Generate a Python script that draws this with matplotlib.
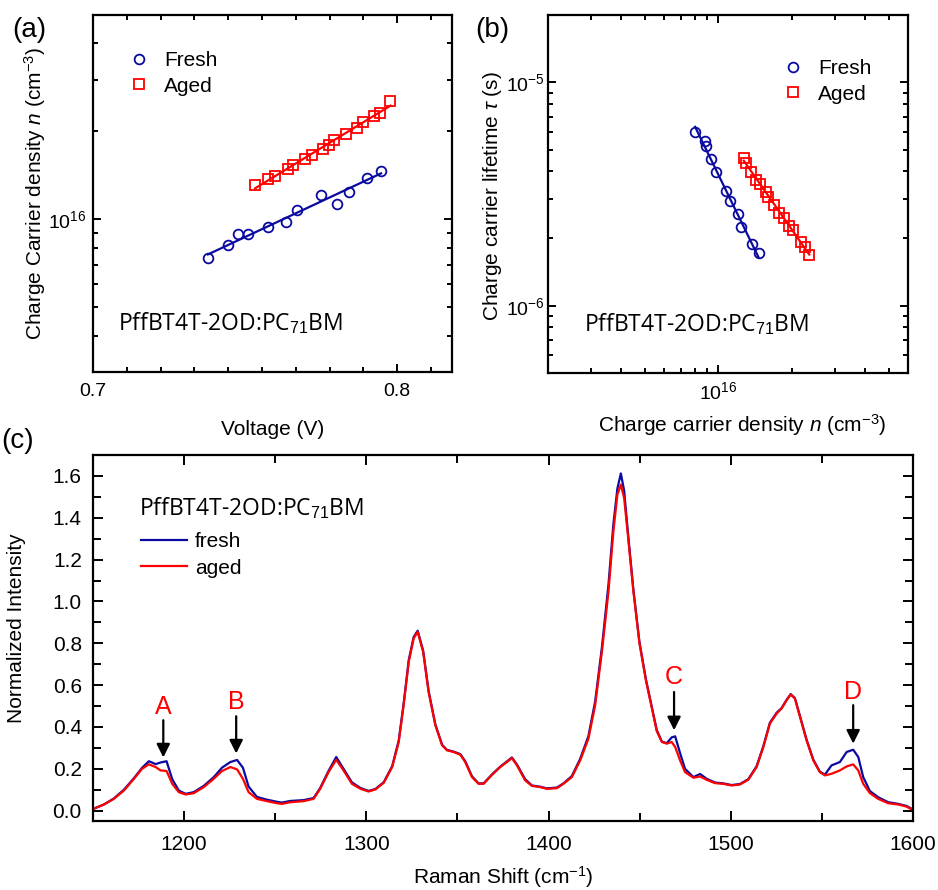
import numpy as np
import matplotlib
matplotlib.use("Agg")
import matplotlib.pyplot as plt
from matplotlib.ticker import (LogLocator, NullFormatter, MultipleLocator,
                               FixedLocator)

plt.rcParams['font.family'] = ['Liberation Sans', 'DejaVu Sans']
plt.rcParams['mathtext.fontset'] = 'custom'
plt.rcParams['mathtext.rm'] = 'Liberation Sans'
plt.rcParams['mathtext.it'] = 'Liberation Sans:italic'
plt.rcParams['axes.linewidth'] = 1.6

BLUE = '#0a0aa0'
RED = '#ff0000'

# (a) carrier density vs voltage
v_fresh = [0.7378, 0.7444, 0.7478, 0.7511, 0.7574, 0.7636, 0.7670, 0.7749,
           0.7801, 0.7841, 0.7900, 0.7947]
n_fresh_v = [7.34e15, 8.15e15, 8.89e15, 8.89e15, 9.41e15, 9.82e15, 1.076e16,
             1.207e16, 1.131e16, 1.243e16, 1.384e16, 1.468e16]
v_aged = [0.7533, 0.7576, 0.7598, 0.7640, 0.7658, 0.7698, 0.7719, 0.7757,
          0.7775, 0.7793, 0.7832, 0.7868, 0.7888, 0.7923, 0.7942, 0.7978]
n_aged_v = [1.306e16, 1.377e16, 1.405e16, 1.489e16, 1.532e16, 1.611e16,
            1.658e16, 1.734e16, 1.789e16, 1.865e16, 1.961e16, 2.056e16,
            2.155e16, 2.265e16, 2.313e16, 2.547e16]

# (b) lifetime vs carrier density
n_fresh = [8.03e15, 8.84e15, 8.90e15, 9.33e15, 9.78e15, 1.076e16, 1.121e16,
           1.202e16, 1.233e16, 1.373e16, 1.463e16]
tau_fresh = [6.01e-6, 5.48e-6, 5.19e-6, 4.54e-6, 3.96e-6, 3.27e-6, 2.95e-6,
             2.57e-6, 2.24e-6, 1.89e-6, 1.73e-6]
n_aged = [1.272e16, 1.302e16, 1.365e16, 1.432e16, 1.487e16, 1.564e16,
          1.598e16, 1.692e16, 1.775e16, 1.862e16, 1.952e16, 2.028e16,
          2.176e16, 2.267e16, 2.361e16]
tau_aged = [4.57e-6, 4.34e-6, 3.98e-6, 3.65e-6, 3.51e-6, 3.22e-6, 3.06e-6,
            2.82e-6, 2.59e-6, 2.48e-6, 2.28e-6, 2.18e-6, 1.92e-6, 1.84e-6,
            1.69e-6]

# (c) Raman spectra
shift = [1150.2, 1156.0, 1161.5, 1167.0, 1172.5, 1177.0, 1180.7, 1184.4,
         1187.1, 1190.4, 1193.5, 1197.1, 1200.8, 1205.3, 1210.8, 1216.3,
         1220.8, 1225.4, 1229.1, 1232.3, 1235.4, 1240.0, 1245.5, 1251.0,
         1253.7, 1258.3, 1265.6, 1271.1, 1274.7, 1279.3, 1283.5, 1287.5,
         1292.1, 1296.8, 1301.3, 1305.0, 1309.6, 1314.2, 1317.8, 1320.5,
         1323.3, 1326.0, 1328.2, 1331.2, 1334.2, 1337.9, 1341.6, 1344.3,
         1347.9, 1351.6, 1354.3, 1358.0, 1361.6, 1364.4, 1369.0, 1373.5,
         1377.2, 1379.9, 1382.7, 1387.2, 1390.9, 1395.5, 1399.1, 1404.6,
         1408.2, 1412.8, 1417.4, 1421.9, 1425.6, 1429.3, 1432.9, 1435.6,
         1437.8, 1439.7, 1441.5, 1443.9, 1446.6, 1449.9, 1451.5, 1453.5,
         1456.7, 1459.4, 1462.2, 1464.9, 1467.6, 1469.5, 1472.2, 1474.9,
         1479.5, 1483.2, 1486.8, 1491.4, 1495.9, 1500.5, 1505.1, 1509.6,
         1514.2, 1517.9, 1521.5, 1525.2, 1527.9, 1530.7, 1532.9, 1535.2,
         1538.0, 1541.6, 1545.3, 1548.9, 1551.7, 1555.3, 1559.9, 1563.6,
         1567.2, 1570.0, 1572.7, 1576.4, 1580.9, 1586.4, 1591.9, 1596.5,
         1599.8]
aged = [0.008, 0.029, 0.056, 0.096, 0.152, 0.200, 0.221, 0.208,
        0.192, 0.189, 0.128, 0.088, 0.077, 0.083, 0.112, 0.152,
        0.189, 0.208, 0.197, 0.152, 0.088, 0.056, 0.045, 0.035,
        0.032, 0.040, 0.045, 0.056, 0.104, 0.184, 0.243, 0.192,
        0.128, 0.104, 0.091, 0.101, 0.133, 0.208, 0.328, 0.504,
        0.711, 0.823, 0.855, 0.759, 0.567, 0.408, 0.312, 0.288,
        0.280, 0.267, 0.232, 0.160, 0.128, 0.128, 0.171, 0.208,
        0.232, 0.251, 0.216, 0.144, 0.118, 0.112, 0.104, 0.107,
        0.128, 0.160, 0.240, 0.344, 0.504, 0.759, 1.047, 1.335,
        1.511, 1.559, 1.495, 1.287, 1.047, 0.800, 0.720, 0.620,
        0.490, 0.380, 0.328, 0.320, 0.328, 0.304, 0.240, 0.184,
        0.157, 0.163, 0.147, 0.131, 0.128, 0.120, 0.125, 0.147,
        0.208, 0.304, 0.416, 0.464, 0.488, 0.528, 0.555, 0.536,
        0.448, 0.336, 0.240, 0.184, 0.168, 0.176, 0.192, 0.211,
        0.221, 0.192, 0.128, 0.083, 0.056, 0.035, 0.029, 0.019,
        0.003]
fresh = [0.008, 0.029, 0.058, 0.100, 0.155, 0.205, 0.236, 0.222,
         0.230, 0.236, 0.150, 0.096, 0.080, 0.088, 0.118, 0.160,
         0.205, 0.232, 0.242, 0.205, 0.115, 0.065, 0.052, 0.042,
         0.038, 0.046, 0.050, 0.060, 0.108, 0.190, 0.256, 0.200,
         0.135, 0.108, 0.094, 0.103, 0.136, 0.212, 0.335, 0.512,
         0.720, 0.830, 0.860, 0.765, 0.572, 0.412, 0.315, 0.290,
         0.282, 0.270, 0.236, 0.164, 0.130, 0.130, 0.173, 0.210,
         0.235, 0.254, 0.220, 0.150, 0.120, 0.114, 0.106, 0.110,
         0.130, 0.165, 0.248, 0.356, 0.522, 0.780, 1.080, 1.370,
         1.540, 1.612, 1.530, 1.300, 1.055, 0.806, 0.726, 0.626,
         0.495, 0.385, 0.330, 0.322, 0.350, 0.355, 0.275, 0.200,
         0.160, 0.175, 0.152, 0.134, 0.130, 0.122, 0.127, 0.150,
         0.212, 0.308, 0.420, 0.468, 0.490, 0.530, 0.557, 0.538,
         0.452, 0.340, 0.244, 0.186, 0.172, 0.216, 0.232, 0.280,
         0.291, 0.256, 0.160, 0.093, 0.064, 0.040, 0.032, 0.022,
         0.006]

peak_names = ['A', 'B', 'C', 'D']
peak_pos = [1188.6, 1228.6, 1468.9, 1567.2]
label_y = [0.495, 0.519, 0.639, 0.567]
arrow_top = [0.432, 0.451, 0.567, 0.504]
arrow_tip = [0.254, 0.273, 0.384, 0.320]

sample = 'PffBT4T-2OD:PC$_{71}$BM'

fig = plt.figure(figsize=(9.38, 8.9), dpi=100)
ax_a = fig.add_axes([0.0991, 0.582, 0.3827, 0.4011])
ax_b = fig.add_axes([0.5842, 0.5809, 0.3838, 0.4022])
ax_c = fig.add_axes([0.0991, 0.0775, 0.8742, 0.4112])


def style_ticks(ax, size):
    ax.tick_params(which='both', direction='in', top=True, right=True,
                   width=1.4, labelsize=size)
    ax.tick_params(which='major', length=6)
    ax.tick_params(which='minor', length=3.5)


def fit_line(ax, x, y, color, logx=False):
    x = np.asarray(x)
    xx = np.log10(x) if logx else x
    k, b = np.polyfit(xx, np.log10(y), 1)
    xs = np.array([x.min(), x.max()])
    xl = np.log10(xs) if logx else xs
    ax.plot(xs, 10 ** (k * xl + b), color=color, lw=1.6, zorder=2)


# ---- panel (a)
fit_line(ax_a, v_fresh, n_fresh_v, BLUE)
fit_line(ax_a, v_aged, n_aged_v, RED)
ax_a.plot(v_fresh, n_fresh_v, 'o', mfc='none', mec=BLUE, mew=1.3, ms=7,
          label='Fresh', zorder=3)
ax_a.plot(v_aged, n_aged_v, 's', mfc='none', mec=RED, mew=1.3, ms=6.5,
          label='Aged', zorder=3)
ax_a.set_yscale('log')
ax_a.set_xlim(0.7, 0.818)
ax_a.set_ylim(3e15, 5e16)
ax_a.xaxis.set_major_locator(MultipleLocator(0.1))
ax_a.xaxis.set_minor_locator(FixedLocator(0.7 + np.arange(12) * 0.1 / 9))
ax_a.xaxis.set_major_formatter(plt.FuncFormatter(lambda v, p: f'{v:.1f}'))
ax_a.yaxis.set_minor_formatter(NullFormatter())
style_ticks(ax_a, 14)
ax_a.tick_params(axis='x', pad=8)
ax_a.tick_params(axis='y', pad=5)
ax_a.set_xlabel('Voltage (V)', fontsize=15, va='center')
ax_a.xaxis.set_label_coords(0.5, -0.162)
ax_a.set_ylabel('Charge Carrier density $\\mathit{n}$ (cm$^{-3}$)',
                fontsize=15, va='center')
ax_a.yaxis.set_label_coords(-0.162, 0.5)
ax_a.legend(loc='upper left', bbox_to_anchor=(0.099, 0.898), frameon=False,
            fontsize=15, handlelength=1.0, handletextpad=0.7,
            labelspacing=0.3, borderpad=0, borderaxespad=0, numpoints=1)
ax_a.text(0.07, 0.137, sample, transform=ax_a.transAxes, fontsize=16.5,
          family='Open Sans', va='center')

# ---- panel (b)
fit_line(ax_b, n_fresh, tau_fresh, BLUE, logx=True)
fit_line(ax_b, n_aged, tau_aged, RED, logx=True)
ax_b.plot(n_fresh, tau_fresh, 'o', mfc='none', mec=BLUE, mew=1.3, ms=7,
          label='Fresh', zorder=3)
ax_b.plot(n_aged, tau_aged, 's', mfc='none', mec=RED, mew=1.3, ms=6.5,
          label='Aged', zorder=3)
ax_b.set_xscale('log')
ax_b.set_yscale('log')
ax_b.set_xlim(2e15, 6e16)
ax_b.set_ylim(5e-7, 2e-5)
ax_b.xaxis.set_minor_formatter(NullFormatter())
ax_b.yaxis.set_minor_formatter(NullFormatter())
style_ticks(ax_b, 14)
ax_b.tick_params(axis='x', pad=6)
ax_b.tick_params(axis='y', pad=2)
ax_b.set_xlabel('Charge carrier density $\\mathit{n}$ (cm$^{-3}$)',
                fontsize=15, va='center')
ax_b.xaxis.set_label_coords(0.539, -0.145)
ax_b.set_ylabel('Charge carrier lifetime $\\tau$ (s)', fontsize=15,
                va='center')
ax_b.yaxis.set_label_coords(-0.153, 0.494)
ax_b.legend(loc='upper left', bbox_to_anchor=(0.652, 0.876), frameon=False,
            fontsize=15, handlelength=1.0, handletextpad=0.7,
            labelspacing=0.3, borderpad=0, borderaxespad=0, numpoints=1)
ax_b.text(0.1, 0.137, sample, transform=ax_b.transAxes, fontsize=16.5,
          family='Open Sans', va='center')

# ---- panel (c)
ax_c.plot(shift, fresh, color=BLUE, lw=1.6, label='fresh')
ax_c.plot(shift, aged, color=RED, lw=1.6, label='aged')
ax_c.set_xlim(1150, 1600)
ax_c.set_ylim(-0.05, 1.7)
ax_c.xaxis.set_major_locator(MultipleLocator(100))
ax_c.xaxis.set_minor_locator(MultipleLocator(50))
ax_c.yaxis.set_major_locator(MultipleLocator(0.2))
ax_c.yaxis.set_minor_locator(MultipleLocator(0.1))
ax_c.yaxis.set_major_formatter(plt.FuncFormatter(lambda v, p: f'{v:.1f}'))
style_ticks(ax_c, 15)
ax_c.tick_params(which='major', length=7)
ax_c.tick_params(which='minor', length=6)
ax_c.tick_params(axis='x', pad=10)
ax_c.tick_params(axis='y', pad=8)
ax_c.set_xlabel('Raman Shift (cm$^{-1}$)', fontsize=15, va='center')
ax_c.xaxis.set_label_coords(0.5, -0.153)
ax_c.set_ylabel('Normalized Intensity', fontsize=15, va='center')
ax_c.yaxis.set_label_coords(-0.0927, 0.527)
ax_c.text(0.056, 0.855, sample, transform=ax_c.transAxes, fontsize=16.5,
          family='Open Sans', va='center')
ax_c.legend(loc='upper left', bbox_to_anchor=(0.058, 0.789), frameon=False,
            fontsize=15, handlelength=2.24, handletextpad=0.37,
            labelspacing=0.35, borderpad=0, borderaxespad=0)
for name, x, ly, top, tip in zip(peak_names, peak_pos, label_y, arrow_top,
                                 arrow_tip):
    ax_c.text(x, ly, name, color=RED, fontsize=18, ha='center', va='center')
    ax_c.annotate('', xy=(x, tip), xytext=(x, top),
                  arrowprops=dict(arrowstyle='-|>', color='k', lw=1.6,
                                  mutation_scale=20, shrinkA=0, shrinkB=0))

fig.text(12 / 938, 1 - 30 / 890, '(a)', fontsize=20, va='center')
fig.text(475 / 938, 1 - 30 / 890, '(b)', fontsize=20, va='center')
fig.text(1 / 938, 1 - 441 / 890, '(c)', fontsize=20, va='center')

fig.savefig('out.png', dpi=100)
